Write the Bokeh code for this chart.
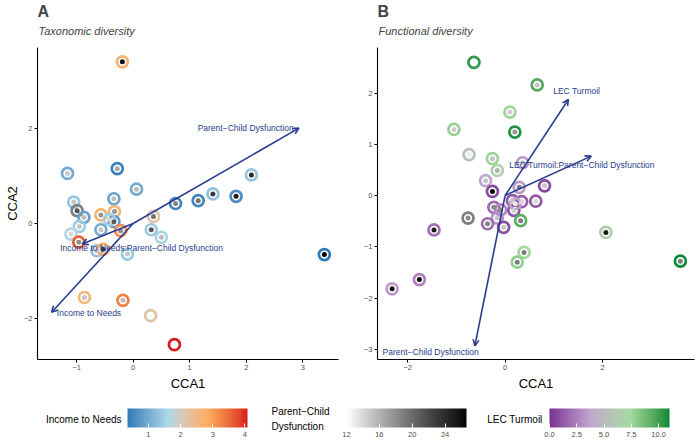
import math
from bokeh.plotting import figure
from bokeh.models import (ColumnDataSource, LinearColorMapper, ColorBar, Arrow, OpenHead,
                          Label, Title, FixedTicker, Range1d, PrintfTickFormatter)
from bokeh.layouts import column, row
from bokeh.embed import file_html
from bokeh.resources import INLINE
from bokeh.core.properties import value

nan = float("nan")

# ---------------- data ----------------
# Panel A: Taxonomic diversity
a_cca1 = [-0.19, -1.16, -0.28, 0.06, 2.09, 1.82, 1.41, 1.15, 0.75, 0.36, 0.32, 0.50, -0.34, -1.05,
          -0.99, -0.87, -0.57, -0.33, -0.34, -0.42, -0.95, -1.10, -0.96, -0.57, -0.22, -0.64, -0.53,
          -0.10, -0.86, -0.18, 0.31, 0.73, 3.38]
a_cca2 = [3.39, 1.05, 1.15, 0.72, 1.02, 0.57, 0.62, 0.48, 0.42, 0.15, -0.13, -0.29, 0.52, 0.45,
          0.27, 0.13, 0.18, 0.25, 0.04, 0.08, -0.06, -0.22, -0.39, -0.13, -0.15, -0.57, -0.54,
          -0.64, -1.55, -1.61, -1.93, -2.54, -0.65]
a_income = [2.7, 1.0, 0.45, 1.0, 1.35, 0.6, 1.3, 0.5, 0.5, 2.2, 1.4, 1.55, 0.9, 1.35,
            nan, 0.9, 2.7, 2.6, 0.8, 1.5, 1.45, 1.65, 3.6, 1.0, 3.2, 1.3, 2.9,
            1.4, 2.6, 3.3, 2.2, 4.08, 0.35]
a_pcd = [26, 14.8, 16.5, 15.5, 24, 25, 23, 19.5, 18.5, 19.5, 21.5, 15.5, 15.5, 15,
         21.5, 15.5, 17.5, 17.5, 21, 14, 15, 14, 18, 15, 18, 15, 23,
         15, 15, 15.5, 12, 12, 26.6]

a_arrow_names = ["Parent\u2212Child Dysfunction", "Income to Needs",
                 "Income to Needs:Parent\u2212Child Dysfunction"]
a_arrow_x = [2.93, -1.44, -0.90]
a_arrow_y = [2.00, -1.86, -0.43]
a_label_x = [1.99, -0.78, 0.15]
a_label_y = [2.00, -1.87, -0.52]

# Panel B: Functional diversity
b_cca1 = [-0.64, 0.66, -1.05, 0.10, 0.20, -0.74, -0.26, -0.16, -0.40, -0.26, 0.36, 0.29, 0.81,
          0.15, 0.34, 0.63, -0.23, -0.09, 0.18, -0.16, -0.36, -0.03, 0.32, -0.76, 0.21, -1.46,
          0.39, 0.25, 2.07, 3.60, -1.76, -2.32]
b_cca2 = [2.60, 2.16, 1.29, 1.63, 1.24, 0.80, 0.72, 0.49, 0.29, 0.08, 0.64, 0.16, 0.19,
          -0.10, -0.12, -0.11, -0.23, -0.28, -0.29, -0.44, -0.55, -0.62, -0.49, -0.44, -0.16, -0.67,
          -1.11, -1.30, -0.72, -1.28, -1.64, -1.82]
b_lec = [10.3, 9.5, 7.8, 7.6, 10.6, 5.5, 7.6, 6.6, 3.6, 0.8, 3.2, 3.3, 0.7,
         1.2, 1.3, 1.2, 1.8, 2.8, 1.1, 3.0, 1.8, 0.9, 9.3, nan, 3.5, 2.0,
         7.4, 7.9, 6.3, 10.9, 2.5, 3.3]
b_pcd = [12, 15, 14.5, 14.5, 17.5, 13, 15, 16, 15, 26.6, 15, 19, 15,
         15, 14, 14, 18.5, 18, 14.5, 15, 18.5, 15, 19, 18, 13, 25,
         19, 19, 25.5, 19, 26, 26]

b_arrow_names = ["LEC Turmoil", "LEC Turmoil:Parent\u2212Child Dysfunction", "Parent\u2212Child Dysfunction"]
b_arrow_x = [1.30, 1.77, -0.62]
b_arrow_y = [1.875, 0.77, -2.93]
b_label_x = [1.47, 1.58, -1.53]
b_label_y = [2.04, 0.60, -3.05]

income_range = (0.35, 4.08)
pcd_range = (12.0, 26.6)
lec_range = (0.0, 11.0)
income_ticks = [1, 2, 3, 4]
pcd_ticks = [12, 16, 20, 24]
lec_ticks = [0, 2.5, 5, 7.5, 10]

# ---------------- colour helpers (Lab interpolation like ggplot) ----------------
def _hex_to_rgb(h):
    return [int(h[i:i + 2], 16) / 255 for i in (1, 3, 5)]

def _lin(c):
    return c / 12.92 if c <= 0.04045 else ((c + 0.055) / 1.055) ** 2.4

def _delin(c):
    return 12.92 * c if c <= 0.0031308 else 1.055 * c ** (1 / 2.4) - 0.055

def _rgb_to_lab(rgb):
    r, g, b = [_lin(c) for c in rgb]
    X = (0.4124 * r + 0.3576 * g + 0.1805 * b) / 0.95047
    Y = 0.2126 * r + 0.7152 * g + 0.0722 * b
    Z = (0.0193 * r + 0.1192 * g + 0.9505 * b) / 1.08883
    f = lambda t: t ** (1 / 3) if t > 0.008856 else 7.787 * t + 16 / 116
    fx, fy, fz = f(X), f(Y), f(Z)
    return (116 * fy - 16, 500 * (fx - fy), 200 * (fy - fz))

def _lab_to_hex(L, a, b):
    fy = (L + 16) / 116
    fx = fy + a / 500
    fz = fy - b / 200
    finv = lambda t: t ** 3 if t ** 3 > 0.008856 else (t - 16 / 116) / 7.787
    X, Y, Z = finv(fx) * 0.95047, finv(fy), finv(fz) * 1.08883
    r = 3.2406 * X - 1.5372 * Y - 0.4986 * Z
    g = -0.9689 * X + 1.8758 * Y + 0.0415 * Z
    bb = 0.0557 * X - 0.2040 * Y + 1.0570 * Z
    out = [min(1, max(0, _delin(max(0, c)))) for c in (r, g, bb)]
    return "#%02x%02x%02x" % tuple(int(round(c * 255)) for c in out)

def gradient(stops, n=256):
    labs = [_rgb_to_lab(_hex_to_rgb(s)) for s in stops]
    res = []
    for i in range(n):
        t = i / (n - 1) * (len(stops) - 1)
        k = min(int(t), len(stops) - 2)
        u = t - k
        res.append(_lab_to_hex(*[labs[k][j] * (1 - u) + labs[k + 1][j] * u for j in range(3)]))
    return res

income_pal = gradient(["#2C7BB6", "#ABD9E9", "#FDAE61", "#D7191C"])
pcd_pal = gradient(["#FFFFFF", "#000000"])
lec_pal = gradient(["#7B3294", "#C2A5CF", "#A6DBA0", "#008837"])

NA_COL = "#7F7F7F"
income_map = LinearColorMapper(palette=income_pal, low=income_range[0], high=income_range[1], nan_color=NA_COL)
pcd_map = LinearColorMapper(palette=pcd_pal, low=pcd_range[0], high=pcd_range[1], nan_color=NA_COL)
lec_map = LinearColorMapper(palette=lec_pal, low=lec_range[0], high=lec_range[1], nan_color=NA_COL)

FONT = "Liberation Sans"
ARROW_COL = "#2B3C8E"
TICK_COL = "#4D4D4D"


def style_axes(p):
    for ax in p.axis:
        ax.axis_line_color = "black"
        ax.axis_line_width = 1.1
        ax.major_tick_line_color = "black"
        ax.major_tick_line_width = 1
        ax.major_tick_out = 3
        ax.major_tick_in = 0
        ax.minor_tick_line_color = None
        ax.major_label_text_font = FONT
        ax.major_label_text_font_size = "7.5px"
        ax.major_label_text_color = TICK_COL
        ax.major_label_standoff = 2
        ax.axis_label_text_font = FONT
        ax.axis_label_text_font_size = "13px"
        ax.axis_label_text_font_style = "normal"
        ax.axis_label_text_color = "black"
        ax.axis_label_standoff = 3
    p.yaxis.axis_label_standoff = 1
    p.grid.visible = False
    p.outline_line_color = None


FRAME_H = 312


def panel(letter, subtitle, xs, ys, ring_vals, ring_map, dot_vals, names, ax_x, ax_y, lx, ly,
          xr, yr, xticks, yticks, fw, mbl, mbr, ylabel):
    p = figure(frame_width=fw, frame_height=FRAME_H, x_range=Range1d(*xr), y_range=Range1d(*yr),
               toolbar_location=None, output_backend="svg",
               min_border_left=mbl, min_border_right=mbr, min_border_top=0, min_border_bottom=36)
    # spacer between subtitle and panel
    p.add_layout(Title(text=" ", text_font=FONT, text_font_size="6px", standoff=0, align="left"), "above")
    p.add_layout(Title(text=subtitle, text_font=FONT, text_font_size="11px", text_font_style="italic",
                       align="left", standoff=5, offset=1), "above")
    p.add_layout(Title(text=letter, text_font=FONT, text_font_size="16px", text_font_style="bold",
                       align="left", standoff=1, offset=0), "above")
    src = ColumnDataSource(dict(x=xs, y=ys, ring=ring_vals, dot=dot_vals))
    p.scatter("x", "y", source=src, marker="circle", size=11, fill_color=None,
              line_color={"field": "ring", "transform": ring_map}, line_width=2.7)
    p.scatter("x", "y", source=src, marker="circle", size=5, line_color=None,
              fill_color={"field": "dot", "transform": pcd_map})
    asrc = ColumnDataSource(dict(x0=[0.0] * len(ax_x), y0=[0.0] * len(ax_y), x1=ax_x, y1=ax_y))
    p.add_layout(Arrow(source=asrc, x_start="x0", y_start="y0", x_end="x1", y_end="y1",
                       line_color=ARROW_COL, line_width=1.6,
                       end=OpenHead(size=6, line_color=ARROW_COL, line_width=1.6)))
    lsrc = ColumnDataSource(dict(x=lx, y=ly, t=names))
    p.text("x", "y", text="t", source=lsrc, text_font=value(FONT), text_font_size="8.5px",
           text_color=ARROW_COL, text_align="center", text_baseline="middle")
    p.xaxis.ticker = FixedTicker(ticks=xticks)
    p.yaxis.ticker = FixedTicker(ticks=yticks)
    p.xaxis.axis_label = "CCA1"
    if ylabel:
        p.yaxis.axis_label = ylabel
    style_axes(p)
    return p


pA = panel("A", "Taxonomic diversity", a_cca1, a_cca2, a_income, income_map, a_pcd,
           a_arrow_names, a_arrow_x, a_arrow_y, a_label_x, a_label_y,
           (-1.69, 3.63), (-2.85, 3.69), [-1, 0, 1, 2, 3], [-2, 0, 2], 301, 37, 17, "CCA2")
pB = panel("B", "Functional diversity", b_cca1, b_cca2, b_lec, lec_map, b_pcd,
           b_arrow_names, b_arrow_x, b_arrow_y, b_label_x, b_label_y,
           (-2.62, 3.89), (-3.20, 2.89), [-2, 0, 2], [-3, -2, -1, 0, 1, 2], 317, 22, 1, None)

# ---------------- legend strip ----------------
LH = 48
pL = figure(width=695, height=LH, x_range=Range1d(0, 695), y_range=Range1d(0, LH),
            x_axis_type=None, y_axis_type=None, toolbar_location=None, output_backend="svg",
            min_border=0)
pL.grid.visible = False
pL.outline_line_color = None


def cbar(mapper, ticks, x, fmt=None):
    cb = ColorBar(color_mapper=mapper, orientation="horizontal", location=(x, 4), width=120, height=19,
                  ticker=FixedTicker(ticks=ticks), padding=0, label_standoff=4,
                  major_label_text_font=FONT, major_label_text_font_size="7.5px",
                  major_label_text_color=TICK_COL, major_tick_line_color="white",
                  major_tick_in=4, major_tick_out=0, minor_tick_line_color=None,
                  bar_line_color=None, border_line_color=None, background_fill_color=None)
    if fmt:
        cb.formatter = PrintfTickFormatter(format=fmt)
    pL.add_layout(cb, "center")


cbar(income_map, income_ticks, 127)
cbar(pcd_map, pcd_ticks, 346)
cbar(lec_map, lec_ticks, 549, "%.1f")

for txt, x, y, al in [("Income to Needs", 121, 24, "right"),
                      ("Parent\u2212Child", 271, 32, "left"),
                      ("Dysfunction", 271, 17, "left"),
                      ("LEC Turmoil", 542, 24, "right")]:
    pL.add_layout(Label(x=x, y=y, text=txt, text_align=al, text_baseline="middle",
                        text_font=FONT, text_font_size="10px", text_color="black"))

layout = column(row(pA, pB), pL)
open("out.html", "w").write(file_html(layout, INLINE))
